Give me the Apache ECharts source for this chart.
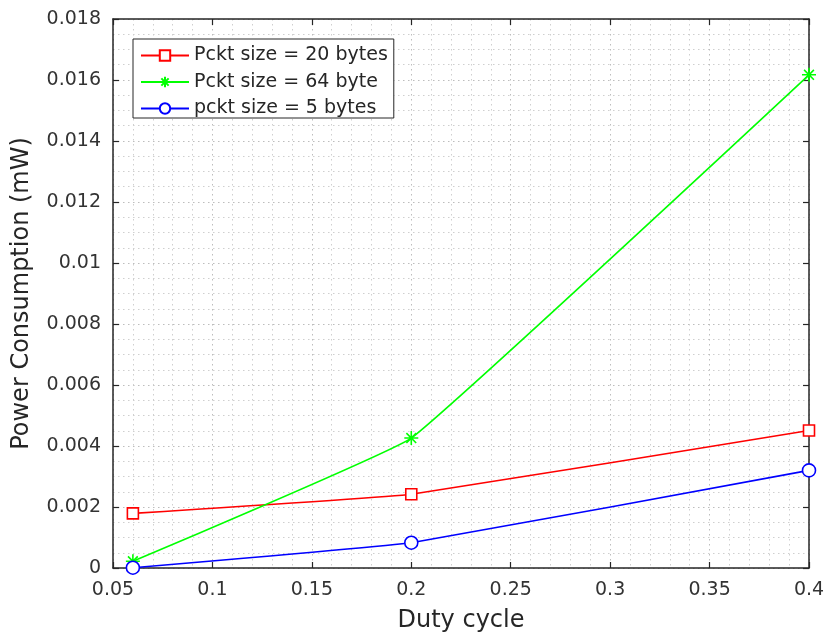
<!DOCTYPE html>
<html>
<head>
<meta charset="utf-8">
<script src="https://cdn.jsdelivr.net/npm/echarts@6/dist/echarts.min.js"></script>
<style>
  html, body { margin: 0; padding: 0; background: #ffffff; }
  #chart { width: 828px; height: 635px; }
</style>
</head>
<body>
<div id="chart"></div>
<script>
// Duty cycle values (x) shared by all series
const dutyCycle = [0.06, 0.2, 0.4];

// Power consumption in mW for each packet size
const pckt20 = [0.00179, 0.00242, 0.00451];
const pckt64 = [0.00022, 0.00426, 0.01617];
const pckt5  = [0.00001, 0.00083, 0.00320];

const seriesNames = ['Pckt size = 20 bytes', 'Pckt size = 64 byte', 'pckt size = 5 bytes'];

const FONT = 'DejaVu Sans';
const AXIS_COLOR = '#262626';

function pairs(ys) {
  return dutyCycle.map((x, i) => [x, ys[i]]);
}

// asterisk marker: plus + cross
const asterisk = 'path://M0,-10L0,10M-10,0L10,0M-7,-7L7,7M-7,7L7,-7';

function lineSeries(name, data, color, symbol, size) {
  return {
    name: name,
    type: 'line',
    data: pairs(data),
    smooth: 0.08,
    symbol: symbol,
    symbolSize: size,
    showAllSymbol: true,
    clip: false,
    lineStyle: { color: color, width: 1.6 },
    itemStyle: { color: symbol === asterisk ? color : '#ffffff', borderColor: color, borderWidth: 1.6 },
    emphasis: { disabled: true },
    z: 5
  };
}

const chart = echarts.init(document.getElementById('chart'), null, { renderer: 'canvas' });

const dotted = { type: [1.5, 3.5], width: 1 };

chart.setOption({
  animation: false,
  backgroundColor: '#ffffff',
  grid: { left: 113, right: 19, top: 19, bottom: 67, containLabel: false, outerBoundsMode: 'none' },
  legend: {
    orient: 'vertical',
    left: 133,
    top: 39,
    padding: [7, 6, 0, 7],
    itemWidth: 48,
    itemHeight: 13,
    itemGap: 7.5,
    backgroundColor: '#ffffff',
    borderColor: AXIS_COLOR,
    borderWidth: 1,
    borderRadius: 0,
    textStyle: { fontFamily: FONT, fontSize: 19, color: '#262626', lineHeight: 19 },
    data: seriesNames
  },
  xAxis: [{
    type: 'value',
    min: 0.05, max: 0.4, interval: 0.05,
    name: 'Duty cycle',
    nameLocation: 'middle',
    nameGap: 41,
    nameTextStyle: { fontFamily: FONT, fontSize: 24, color: '#262626' },
    axisLine: { show: true, onZero: false, lineStyle: { color: AXIS_COLOR, width: 1.5 } },
    axisTick: { show: true, inside: true, length: 6, lineStyle: { color: AXIS_COLOR, width: 1.2 } },
    axisLabel: { fontFamily: FONT, fontSize: 19, color: '#333333', margin: 13 },
    splitLine: { show: true, lineStyle: Object.assign({ color: '#bdbdbd' }, dotted) },
    minorTick: { show: false, splitNumber: 5 },
    minorSplitLine: { show: true, lineStyle: Object.assign({ color: '#cfcfcf' }, dotted) }
  }, {
    type: 'value',
    position: 'top',
    min: 0.05, max: 0.4, interval: 0.05,
    axisLine: { show: true, onZero: false, lineStyle: { color: AXIS_COLOR, width: 1.5 } },
    axisTick: { show: true, inside: true, length: 6, lineStyle: { color: AXIS_COLOR, width: 1.2 } },
    axisLabel: { show: false },
    splitLine: { show: false }
  }],
  yAxis: [{
    type: 'value',
    min: 0, max: 0.018, interval: 0.002,
    name: 'Power Consumption (mW)',
    nameLocation: 'middle',
    nameGap: 79,
    nameTextStyle: { fontFamily: FONT, fontSize: 24, color: '#262626' },
    axisLine: { show: true, onZero: false, lineStyle: { color: AXIS_COLOR, width: 1.5 } },
    axisTick: { show: true, inside: true, length: 6, lineStyle: { color: AXIS_COLOR, width: 1.2 } },
    axisLabel: { fontFamily: FONT, fontSize: 19, color: '#333333', margin: 12 },
    splitLine: { show: true, lineStyle: Object.assign({ color: '#bdbdbd' }, dotted) },
    minorTick: { show: false, splitNumber: 4 },
    minorSplitLine: { show: true, lineStyle: Object.assign({ color: '#cfcfcf' }, dotted) }
  }, {
    type: 'value',
    position: 'right',
    min: 0, max: 0.018, interval: 0.002,
    axisLine: { show: true, onZero: false, lineStyle: { color: AXIS_COLOR, width: 1.5 } },
    axisTick: { show: true, inside: true, length: 6, lineStyle: { color: AXIS_COLOR, width: 1.2 } },
    axisLabel: { show: false },
    splitLine: { show: false }
  }],
  series: [
    lineSeries(seriesNames[0], pckt20, '#ff0000', 'rect', 11),
    lineSeries(seriesNames[1], pckt64, '#00ff00', asterisk, 14),
    lineSeries(seriesNames[2], pckt5, '#0000ff', 'circle', 13)
  ]
});
</script>
</body>
</html>
